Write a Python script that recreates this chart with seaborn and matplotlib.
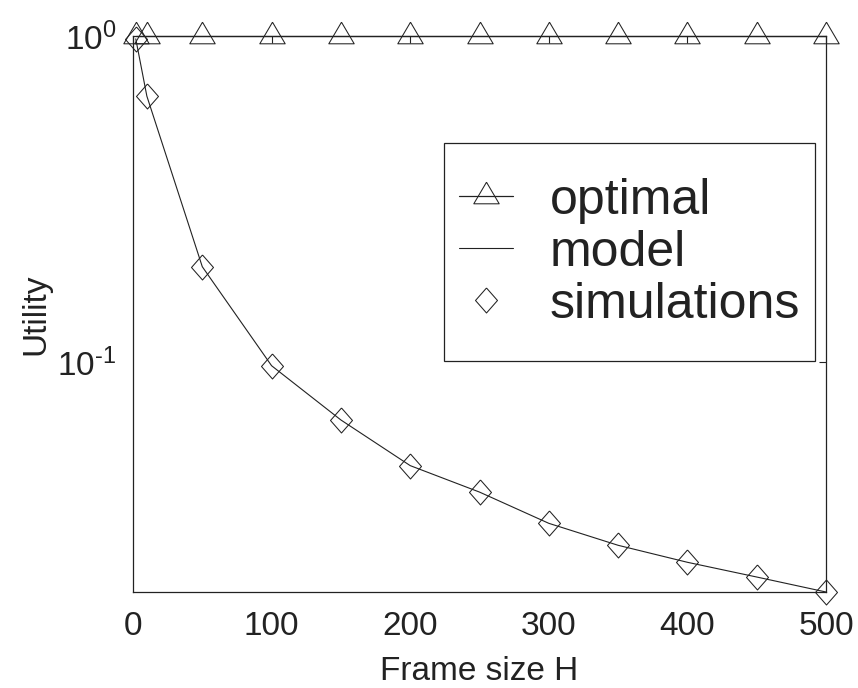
import numpy as np
import pandas as pd
import matplotlib
matplotlib.use("Agg")
import matplotlib.pyplot as plt
import seaborn as sns
from matplotlib.patches import Rectangle
from matplotlib.ticker import FixedLocator, NullLocator, FuncFormatter

# ---- data ----
H = [2, 10, 50, 100, 150, 200, 250, 300, 350, 400, 450, 500]
optimal = [1.0] * len(H)
model = [0.98, 0.654, 0.196, 0.0974, 0.0664, 0.0481, 0.0399, 0.0320, 0.0274, 0.0243, 0.0219, 0.0197]
simulations = [0.98, 0.654, 0.196, 0.0974, 0.0664, 0.0481, 0.0399, 0.0320, 0.0274, 0.0243, 0.0219, 0.0197]
x_ticks = [0, 100, 200, 300, 400, 500]
y_ticks = [0.1, 1.0]

df = pd.DataFrame({"H": H, "optimal": optimal, "model": model, "simulations": simulations})

sns.set_style("white")
plt.rcParams["font.family"] = ["Liberation Sans", "DejaVu Sans"]
plt.rcParams["mathtext.fontset"] = "custom"
plt.rcParams["mathtext.rm"] = "Liberation Sans"
plt.rcParams["mathtext.it"] = "Liberation Sans:italic"
plt.rcParams["mathtext.default"] = "regular"
plt.rcParams["axes.unicode_minus"] = False

txt = "#222222"
fig = plt.figure(figsize=(8.58, 6.88), dpi=100)
ax = fig.add_axes([133 / 858, 1 - 592 / 688, 693 / 858, 556 / 688])

tri = [(0, 14.3), (-12.7, -7.3), (12.7, -7.3), (0, 14.3)]
dia = [(0, 12.5), (11, 0), (0, -12.5), (-11, 0), (0, 12.5)]

sns.lineplot(data=df, x="H", y="optimal", ax=ax, color=txt, lw=0.9,
             marker=tri, markersize=20.6, markerfacecolor="none",
             markeredgecolor=txt, markeredgewidth=0.75, clip_on=False,
             label="optimal", zorder=5)
sns.lineplot(data=df, x="H", y="model", ax=ax, color=txt, lw=0.8,
             clip_on=False, label="model", zorder=4)
sns.lineplot(data=df, x="H", y="simulations", ax=ax, linestyle="none",
             marker=dia, markersize=18, markerfacecolor="none",
             markeredgecolor=txt, markeredgewidth=0.75, clip_on=False,
             label="simulations", zorder=6)


def log_fmt(v, pos):
    e = int(round(np.log10(v)))
    return r"$\mathdefault{10^{\text{%d}}}$" % e


ax.set_yscale("log")
ax.set_xlim(0, 500)
ax.set_ylim(0.0197, 1.0)
ax.xaxis.set_major_locator(FixedLocator(x_ticks))
ax.yaxis.set_major_locator(FixedLocator(y_ticks))
ax.yaxis.set_major_formatter(FuncFormatter(log_fmt))
ax.yaxis.set_minor_locator(NullLocator())
ax.xaxis.set_minor_locator(NullLocator())
ax.tick_params(axis="both", which="major", direction="in", length=5, width=0.8,
               color=txt, labelsize=24, labelcolor=txt, top=True, right=True, pad=12)
ax.tick_params(axis="x", pad=14)
for s in ax.spines.values():
    s.set_visible(True)
    s.set_color(txt)
    s.set_linewidth(0.9)

ax.set_xlabel("Frame size H", fontsize=24, color=txt, labelpad=10)
ax.set_ylabel("Utility", fontsize=24, color=txt, labelpad=4)

# legend box and entries
ax.add_patch(Rectangle((0.4488, 0.4155), 0.5354, 0.392, transform=ax.transAxes,
                       facecolor="white", edgecolor=txt, lw=0.9, zorder=7))
leg = ax.legend(loc="upper left", bbox_to_anchor=(0.470, 0.745), frameon=False,
                fontsize=36, borderpad=0, borderaxespad=0, handlelength=1.08,
                handletextpad=0.74, labelspacing=0.12)
leg.set_zorder(8)
for t in leg.get_texts():
    t.set_color(txt)

fig.savefig("out.png", dpi=100)
